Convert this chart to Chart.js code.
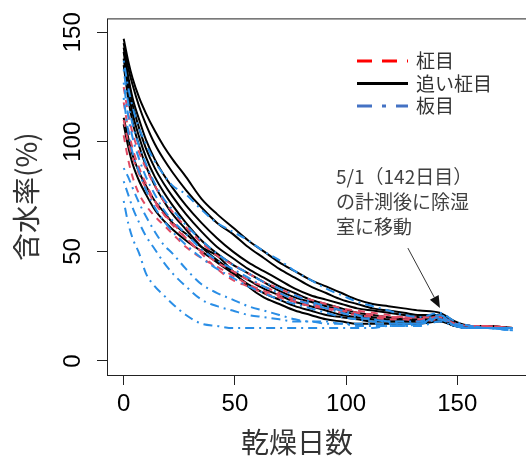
<!DOCTYPE html>
<html lang="ja">
<head>
<meta charset="utf-8">
<title>含水率の推移</title>
<script src="https://cdn.jsdelivr.net/npm/chart.js@4/dist/chart.umd.min.js"></script>
<style>
  html, body { margin: 0; padding: 0; background: #fff; overflow: hidden; }
  #wrap { width: 526px; height: 456px; overflow: hidden; }
</style>
</head>
<body>
<div id="wrap"><canvas id="mcChart" width="560" height="456"></canvas></div>
<script>
// measurement days (乾燥日数)
const days = [0, 2, 4, 7, 10, 14, 18, 22, 28, 35, 42, 49, 56, 63, 70, 77, 84, 91, 98, 105, 112, 119, 126, 133, 142, 149, 156, 163, 175];

// 柾目 (quarter-sawn) moisture content, %
const masame = [
    [125, 113, 104, 95, 88, 80, 73, 68, 61, 54, 48, 44, 40, 36, 33, 30, 28, 26, 24, 23, 22, 21, 20, 20, 20, 17, 16, 16, 15],
    [118, 106, 97, 88, 81, 73, 67, 62, 56, 50, 45, 41, 37, 34, 31, 28, 26, 24, 23, 22, 21, 20, 20, 19, 20, 17, 16, 15, 15],
    [110, 100, 93, 85, 79, 72, 67, 63, 56, 49, 42, 37, 34, 31, 29, 27, 25, 24, 23, 22, 21, 20, 20, 19, 20, 17, 16, 16, 15],
    [103, 92, 84, 76, 71, 66, 62, 58, 52, 47, 43, 39, 35, 32, 30, 28, 26, 24, 22, 21, 20, 19, 19, 18, 19, 17, 16, 15, 15]
];

// 追い柾目 (rift-sawn)
const oiMasame = [
    [147, 137, 129, 120, 113, 105, 98, 92, 84, 74, 67, 61, 55, 50, 45, 41, 37, 34, 31, 28, 26, 25, 24, 23, 22, 18, 16, 16, 15],
    [145, 134, 126, 116, 108, 99, 92, 86, 78, 70, 63, 58, 52, 47, 42, 38, 34, 31, 28, 26, 24, 23, 22, 21, 21, 17, 16, 16, 15],
    [143, 130, 120, 110, 101, 92, 85, 79, 71, 63, 56, 50, 45, 41, 37, 33, 30, 28, 26, 24, 23, 22, 21, 20, 20, 17, 16, 15, 15],
    [141, 127, 117, 106, 97, 88, 81, 75, 67, 59, 52, 47, 42, 38, 34, 31, 28, 26, 24, 22, 21, 20, 19, 19, 19, 16, 16, 15, 15],
    [138, 124, 113, 102, 93, 84, 77, 71, 63, 55, 49, 44, 40, 36, 32, 29, 27, 25, 23, 21, 20, 19, 19, 18, 19, 16, 15, 15, 15],
    [135, 120, 109, 98, 89, 80, 73, 67, 60, 52, 46, 41, 37, 33, 30, 27, 25, 23, 21, 20, 19, 18, 18, 18, 19, 16, 15, 15, 15],
    [111, 102, 94, 86, 80, 73, 68, 63, 58, 52, 48, 41, 34, 29, 26, 23, 21, 19, 18, 17, 17, 17, 17, 17, 18, 16, 15, 15, 15],
    [108, 98, 90, 82, 76, 69, 64, 60, 55, 50, 45, 40, 35, 31, 28, 25, 23, 21, 20, 19, 18, 18, 18, 18, 19, 16, 15, 15, 15]
];

// 板目 (flat-sawn)
const itame = [
    [137, 125, 116, 106, 99, 91, 85, 80, 76, 69, 63, 59, 55, 50, 46, 41, 37, 33, 30, 27, 25, 23, 21, 20, 22, 18, 16, 15, 15],
    [133, 118, 108, 98, 90, 81, 74, 69, 62, 55, 49, 44, 40, 36, 33, 30, 27, 25, 23, 21, 19, 18, 18, 18, 21, 17, 16, 15, 15],
    [127, 112, 102, 92, 84, 76, 69, 64, 58, 51, 46, 42, 38, 34, 31, 28, 26, 24, 22, 20, 19, 18, 17, 17, 21, 16, 15, 15, 15],
    [120, 105, 95, 86, 78, 70, 64, 59, 53, 47, 42, 38, 34, 31, 28, 26, 24, 22, 20, 19, 18, 17, 17, 17, 20, 16, 15, 15, 14],
    [88, 84, 79, 72, 66, 59, 53, 49, 42, 35, 31, 28, 25, 23, 21, 19, 18, 18, 17, 17, 17, 17, 17, 17, 19, 16, 15, 15, 14],
    [82, 76, 70, 63, 57, 51, 45, 40, 34, 28, 25, 23, 21, 20, 19, 18, 18, 17, 17, 16, 16, 16, 16, 17, 19, 16, 15, 15, 14],
    [73, 63, 56, 49, 40, 34, 30, 26, 21, 17, 16, 15, 15, 15, 15, 15, 15, 15, 15, 15, 15, 16, 16, 16, 18, 16, 15, 15, 14]
];

const xTicks = [0, 50, 100, 150];
const yTicks = [0, 50, 100, 150];

const NUM_FONT = "'Liberation Sans', Arial, sans-serif";
const JP_FONT = "'Noto Sans CJK JP', 'Noto Sans', sans-serif";

const groups = [
    { label: '板目', rows: itame, color: '#2a8ee6', dash: [2, 5, 9, 5] },
    { label: '柾目', rows: masame, color: '#e04a63', dash: [7, 6] },
    { label: '追い柾目', rows: oiMasame, color: '#000000', dash: [] }
];

const datasets = [];
groups.forEach(g => {
    g.rows.forEach(row => {
        datasets.push({
            label: g.label,
            data: row.map((v, i) => ({ x: days[i], y: v })),
            borderColor: g.color,
            borderDash: g.dash,
            borderWidth: 2,
            pointRadius: 0,
            cubicInterpolationMode: 'monotone',
            fill: false
        });
    });
});

// legend, annotation, frame and x title drawn over the plot
const overlay = {
    id: 'overlay',
    afterDraw(chart) {
        const { ctx, chartArea: a, scales: { x, y } } = chart;
        ctx.save();

        ctx.strokeStyle = '#222';
        ctx.lineWidth = 1;
        ctx.setLineDash([]);
        ctx.strokeRect(a.left + 0.5, a.top + 0.5, a.right - a.left, a.bottom - a.top);

        const legendItems = [
            { text: '柾目', color: '#ff0000', dash: [15, 10] },
            { text: '追い柾目', color: '#000000', dash: [] },
            { text: '板目', color: '#4472c4', dash: [15, 10, 4, 10] }
        ];
        ctx.font = '19px ' + JP_FONT;
        ctx.textBaseline = 'middle';
        ctx.textAlign = 'left';
        legendItems.forEach((it, i) => {
            const ly = 61 + i * 22.5;
            ctx.beginPath();
            ctx.setLineDash(it.dash);
            ctx.strokeStyle = it.color;
            ctx.lineWidth = 3;
            ctx.moveTo(357, ly);
            ctx.lineTo(408, ly);
            ctx.stroke();
            ctx.fillStyle = '#333';
            ctx.fillText(it.text, 416, ly);
        });
        ctx.setLineDash([]);

        // note about the move to the dehumidified room
        ctx.fillStyle = '#404040';
        ctx.font = '19px ' + JP_FONT;
        ['5/1（142日目）', 'の計測後に除湿', '室に移動'].forEach((t, i) => {
            ctx.fillText(t, 336, 177 + i * 25);
        });

        const x0 = x.getPixelForValue(127.8), y0 = y.getPixelForValue(51.5);
        const x1 = x.getPixelForValue(142.2), y1 = y.getPixelForValue(24.2);
        const ang = Math.atan2(y1 - y0, x1 - x0);
        const head = 12;
        ctx.strokeStyle = '#333';
        ctx.lineWidth = 1;
        ctx.beginPath();
        ctx.moveTo(x0, y0);
        ctx.lineTo(x1 - head * Math.cos(ang), y1 - head * Math.sin(ang));
        ctx.stroke();
        ctx.fillStyle = '#111';
        ctx.beginPath();
        ctx.moveTo(x1, y1);
        ctx.lineTo(x1 - head * Math.cos(ang) + 5 * Math.sin(ang), y1 - head * Math.sin(ang) - 5 * Math.cos(ang));
        ctx.lineTo(x1 - head * Math.cos(ang) - 5 * Math.sin(ang), y1 - head * Math.sin(ang) + 5 * Math.cos(ang));
        ctx.closePath();
        ctx.fill();

        ctx.fillStyle = '#333';
        ctx.font = '28px ' + JP_FONT;
        ctx.textAlign = 'center';
        ctx.fillText('乾燥日数', 297, 442);

        ctx.restore();
    }
};

new Chart(document.getElementById('mcChart').getContext('2d'), {
    type: 'line',
    data: { datasets: datasets },
    options: {
        responsive: false,
        animation: false,
        layout: { padding: { left: 0, top: 18, right: 32, bottom: 0 } },
        plugins: {
            legend: { display: false },
            tooltip: { enabled: false }
        },
        scales: {
            x: {
                type: 'linear',
                min: -7.5,
                max: 181.8,
                afterBuildTicks: s => { s.ticks = xTicks.map(v => ({ value: v })); },
                afterFit: s => { s.height = 81; },
                ticks: {
                    font: { family: NUM_FONT, size: 24 },
                    color: '#000',
                    padding: 5,
                    maxRotation: 0
                },
                grid: { drawOnChartArea: false, drawTicks: true, tickLength: 10, color: '#222' },
                border: { display: false }
            },
            y: {
                type: 'linear',
                min: -6.4,
                max: 156.3,
                afterBuildTicks: s => { s.ticks = yTicks.map(v => ({ value: v })); },
                afterFit: s => { s.width = 107; },
                ticks: {
                    font: { family: NUM_FONT, size: 24 },
                    color: '#000',
                    padding: 4,
                    minRotation: 90,
                    maxRotation: 90,
                    crossAlign: 'center'
                },
                grid: { drawOnChartArea: false, drawTicks: true, tickLength: 10, color: '#222' },
                border: { display: false },
                title: {
                    display: true,
                    text: '含水率(%)',
                    font: { family: JP_FONT, size: 28 },
                    color: '#333',
                    padding: { top: 10, bottom: 0 }
                }
            }
        }
    },
    plugins: [overlay]
});
</script>
</body>
</html>
